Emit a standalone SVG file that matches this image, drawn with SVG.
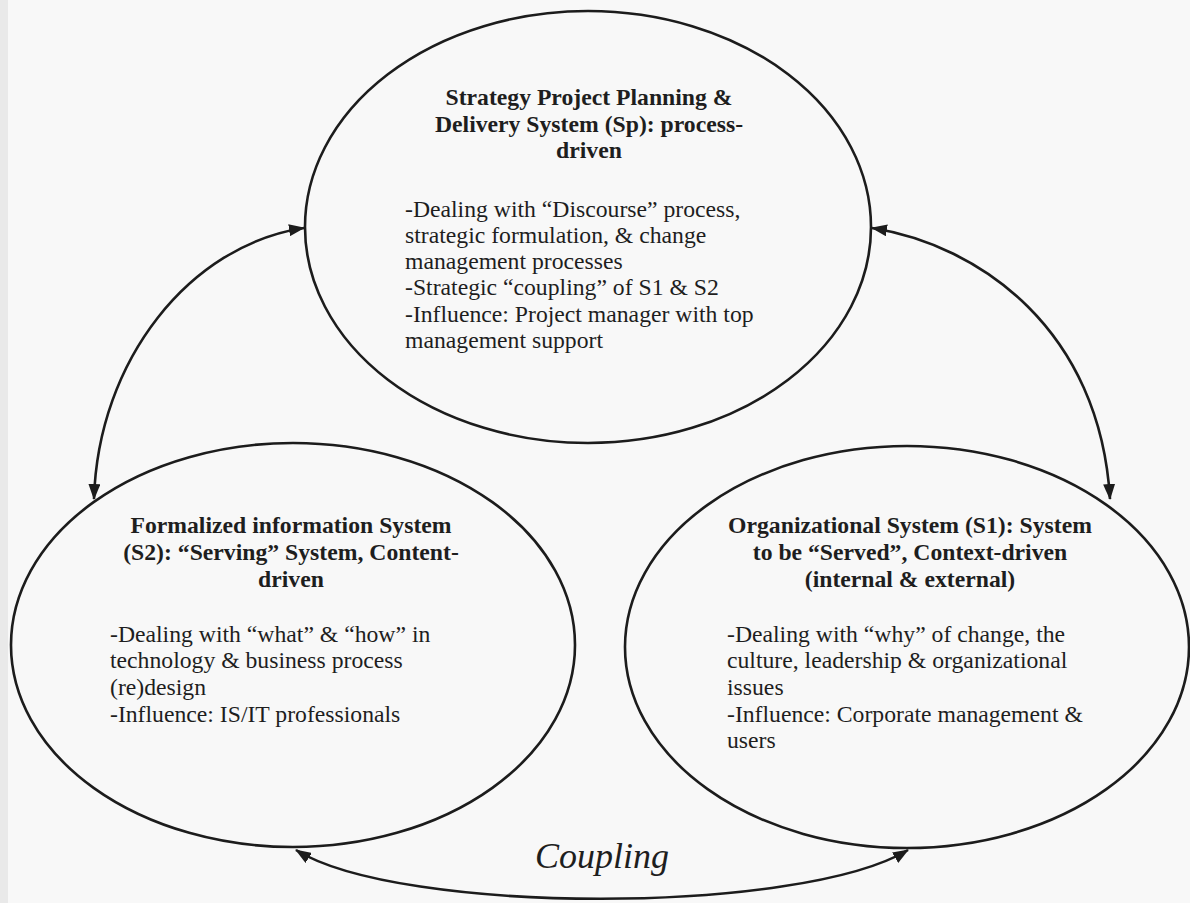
<svg xmlns="http://www.w3.org/2000/svg" width="1190" height="903" viewBox="0 0 1190 903">
  <defs>
    <marker id="head" viewBox="0 0 16 12" refX="15" refY="6" markerWidth="16" markerHeight="12" markerUnits="userSpaceOnUse" orient="auto-start-reverse">
      <path d="M0,0 L16,6 L0,12 z" fill="#1c1c1c"/>
    </marker>
  </defs>
  <style>
    .node { fill: none; stroke: #1c1c1c; stroke-width: 2.6; }
    .link { fill: none; stroke: #1c1c1c; stroke-width: 2.6; marker-start: url(#head); marker-end: url(#head); }
    .title { font-family: "Liberation Serif", "Times New Roman", serif; font-size: 23.7px; font-weight: bold; fill: #1e1e1e; text-anchor: middle; }
    .body { font-family: "Liberation Serif", "Times New Roman", serif; font-size: 23.7px; fill: #1e1e1e; }
    .label { font-family: "Liberation Serif", "Times New Roman", serif; font-size: 36px; font-style: italic; fill: #1e1e1e; text-anchor: middle; }
  </style>

  <rect x="0" y="0" width="1190" height="903" fill="#f8f8f8"/>
  <rect x="0" y="0" width="8" height="903" fill="#e9e9e9"/>

  <!-- Sp: strategy project planning & delivery -->
  <g id="sp">
    <ellipse class="node" cx="588" cy="227" rx="283" ry="216"/>
    <text class="title" x="589" y="105">Strategy Project Planning &amp;</text>
    <text class="title" x="589" y="132">Delivery System (Sp): process-</text>
    <text class="title" x="589" y="158">driven</text>
    <text class="body" x="405" y="217">-Dealing with “Discourse” process,</text>
    <text class="body" x="405" y="243">strategic formulation, &amp; change</text>
    <text class="body" x="405" y="269">management processes</text>
    <text class="body" x="405" y="295">-Strategic “coupling” of S1 &amp; S2</text>
    <text class="body" x="405" y="322">-Influence: Project manager with top</text>
    <text class="body" x="405" y="348">management support</text>
  </g>

  <!-- S2: formalized information system -->
  <g id="s2">
    <ellipse class="node" cx="293" cy="645" rx="282" ry="202"/>
    <text class="title" x="291" y="533">Formalized information System</text>
    <text class="title" x="291" y="560">(S2): “Serving” System, Content-</text>
    <text class="title" x="291" y="587">driven</text>
    <text class="body" x="110" y="642">-Dealing with “what” &amp; “how” in</text>
    <text class="body" x="110" y="668">technology &amp; business process</text>
    <text class="body" x="110" y="695">(re)design</text>
    <text class="body" x="110" y="722">-Influence: IS/IT professionals</text>
  </g>

  <!-- S1: organizational system -->
  <g id="s1">
    <ellipse class="node" cx="907" cy="647" rx="282" ry="201"/>
    <text class="title" x="910" y="533">Organizational System (S1): System</text>
    <text class="title" x="910" y="560">to be “Served”, Context-driven</text>
    <text class="title" x="910" y="587">(internal &amp; external)</text>
    <text class="body" x="727" y="642">-Dealing with “why” of change, the</text>
    <text class="body" x="727" y="668">culture, leadership &amp; organizational</text>
    <text class="body" x="727" y="695">issues</text>
    <text class="body" x="727" y="722">-Influence: Corporate management &amp;</text>
    <text class="body" x="727" y="748">users</text>
  </g>

  <!-- two-way links between the three systems -->
  <g id="connectors">
    <path class="link" d="M94,499 C98,360 190,245 304,228"/>
    <path class="link" d="M872,228 C980,245 1100,330 1110,499"/>
    <path class="link" d="M296,850 C400,915 800,915 908,850"/>
    <text class="label" x="602" y="868">Coupling</text>
  </g>
</svg>
